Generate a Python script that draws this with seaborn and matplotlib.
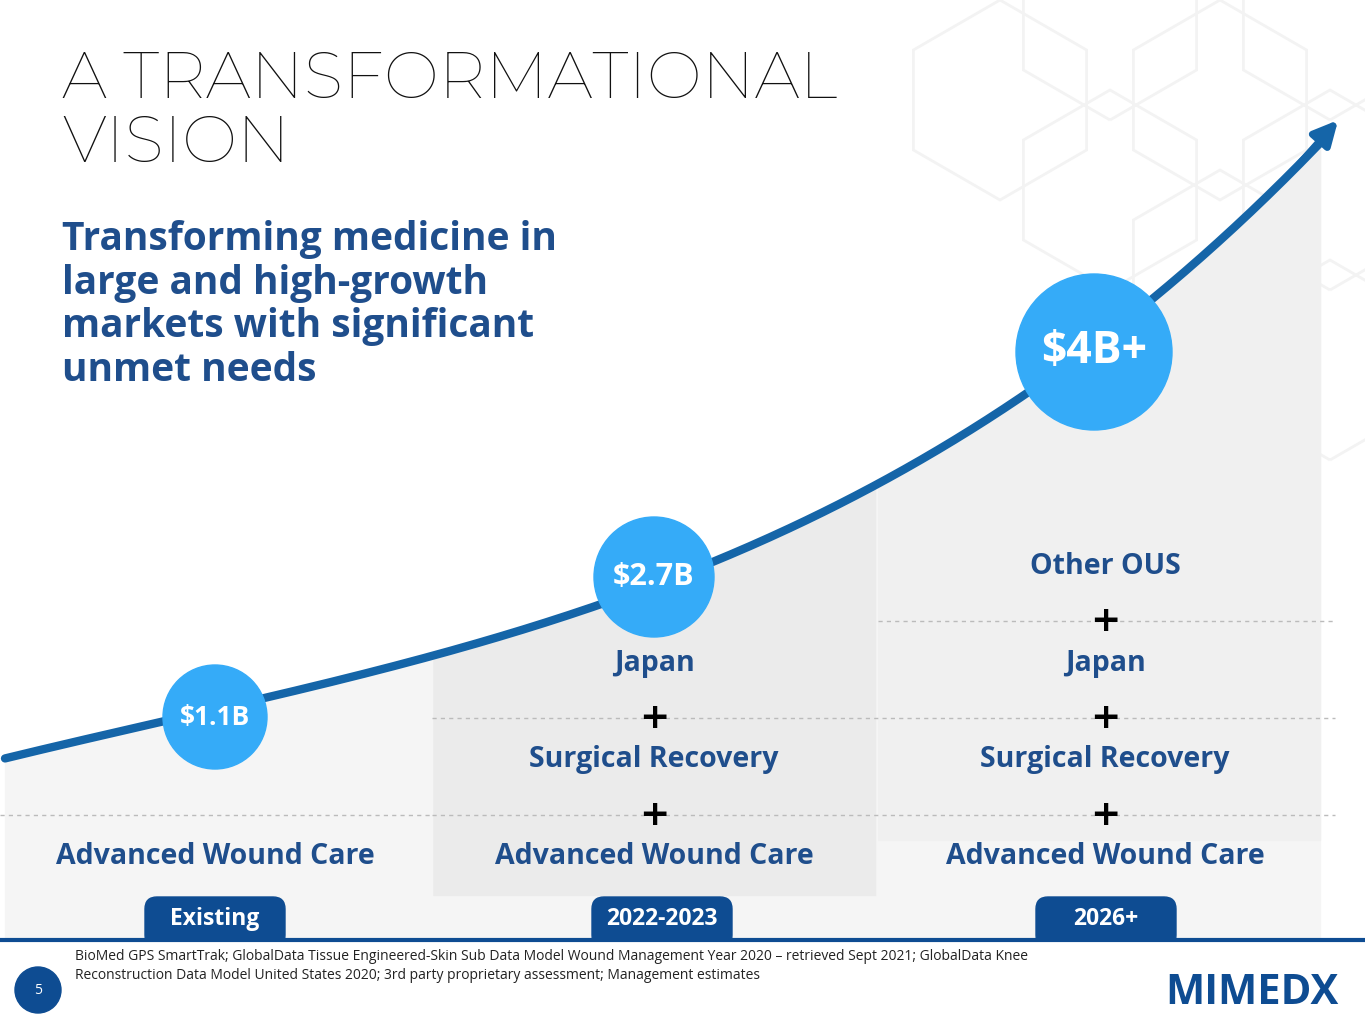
import numpy as np
import matplotlib.pyplot as plt
import seaborn as sns
from matplotlib.patches import Circle, FancyBboxPatch, RegularPolygon

sns.set_theme(style="white")
plt.rcParams['font.family'] = ['Open Sans', 'DejaVu Sans']

# ---- data ----
stages = ["Existing", "2022-2023", "2026+"]
market_sizes = ["$1.1B", "$2.7B", "$4B+"]
segments = [
    ["Advanced Wound Care"],
    ["Advanced Wound Care", "Surgical Recovery", "Japan"],
    ["Advanced Wound Care", "Surgical Recovery", "Japan", "Other OUS"],
]
curve_x = [5, 215, 654, 1094, 1320]
curve_y = [755, 717, 577, 352, 140]

BLUE = "#1F4E8C"
LIGHT = "#35ABF8"
DARK = "#1565A8"
TAB = "#0E4C92"
BOLD = dict(weight="bold", family=["Open Sans", "DejaVu Sans"])

fig = plt.figure(figsize=(13.65, 10.24), dpi=100)
ax = fig.add_axes([0, 0, 1, 1])
ax.set_xlim(0, 1365)
ax.set_ylim(1024, 0)
ax.axis("off")

# faint hexagons
for cx, cy in [(1000, 100), (1110, 20), (1110, 190), (1220, 100), (1220, 270), (1330, 20), (1330, 190), (1330, 360)]:
    ax.add_patch(RegularPolygon((cx, cy), 6, radius=100, orientation=0, fill=False,
                                ec="#F3F3F3", lw=2, zorder=0))

# curve
coef = np.polyfit(curve_x, curve_y, 3)
xs = np.linspace(5, 1320, 400)
ys = np.polyval(coef, xs)
ax.fill_between(xs, ys, 940, color="#F5F5F5", zorder=1)
m2 = (xs >= 432) & (xs <= 878)
ax.fill_between(xs[m2], ys[m2], 895, color="#EBEBEB", zorder=1)
m3 = xs >= 878
ax.fill_between(xs[m3], ys[m3], 840, color="#F0F0F0", zorder=1)
ax.plot(xs, ys, color=DARK, lw=6, solid_capstyle="round", zorder=3)
ax.annotate("", xy=(1340, 118), xytext=(xs[-8], ys[-8]),
            arrowprops=dict(arrowstyle="-|>,head_width=0.6,head_length=1.2", color=DARK, lw=5), zorder=3)

# dashed separators
for x0, x1, y in [(0, 432, 815), (432, 1335, 815), (432, 1335, 718), (878, 1335, 621)]:
    ax.plot([x0, x1], [y, y], ls=(0, (3, 3)), color="#BBBBBB", lw=1, zorder=2)

# columns
col_x = [215, 654, 1105]
circles = [(215, 717, 52), (654, 577, 60), (1094, 352, 78)]
sizes = [19, 22, 32]
for (cx, cy, r), lab, fs in zip(circles, market_sizes, sizes):
    ax.add_patch(Circle((cx, cy), r, color=LIGHT, zorder=4))
    ax.text(cx, cy, lab, ha="center", va="center", color="white", fontsize=fs, zorder=5, **BOLD)
for x, segs in zip(col_x, segments):
    for i, s in enumerate(segs):
        y = 857 - i * 97
        ax.text(x, y, s, ha="center", va="center", color=BLUE, fontsize=20.5, zorder=5, **BOLD)
        if i < len(segs) - 1:
            ax.text(x, y - 42, "+", ha="center", va="center", color="black", fontsize=26, zorder=5,
                    weight="bold", family="DejaVu Sans")

# tabs
for x, st in zip([215, 662, 1106], stages):
    ax.add_patch(FancyBboxPatch((x - 70, 897), 140, 50, boxstyle="round,pad=0,rounding_size=12",
                                color=TAB, zorder=5))
    ax.text(x, 919, st, ha="center", va="center", color="white", fontsize=16.5, zorder=6, **BOLD)
ax.plot([0, 1365], [940, 940], color=TAB, lw=3, zorder=6)
ax.add_patch(plt.Rectangle((0, 941), 1365, 90, color="white", zorder=5))

# titles
ax.text(62, 112, "A TRANSFORMATIONAL\nVISION", ha="left", va="center", fontsize=47,
        color="#111111", family=["Montserrat", "DejaVu Sans"], linespacing=1.05)
ax.text(62, 305, "Transforming medicine in\nlarge and high-growth\nmarkets with significant\nunmet needs",
        ha="left", va="center", fontsize=28, color=BLUE, linespacing=1.15, **BOLD)

# footer
ax.add_patch(Circle((38, 990), 23, color=TAB, zorder=6))
ax.text(38, 990, "5", ha="center", va="center", color="white", fontsize=10, zorder=7)
ax.text(75, 966, "BioMed GPS SmartTrak; GlobalData Tissue Engineered-Skin Sub Data Model Wound Management Year 2020 \u2013 retrieved Sept 2021; GlobalData Knee\n"
        "Reconstruction Data Model United States 2020; 3rd party proprietary assessment; Management estimates",
        ha="left", va="center", fontsize=10, color="#222222", zorder=7, linespacing=1.3)
ax.text(1252, 993, "MIMEDX", ha="center", va="center", fontsize=30, color=TAB, zorder=7, **BOLD)

fig.savefig("out.png", dpi=100)
